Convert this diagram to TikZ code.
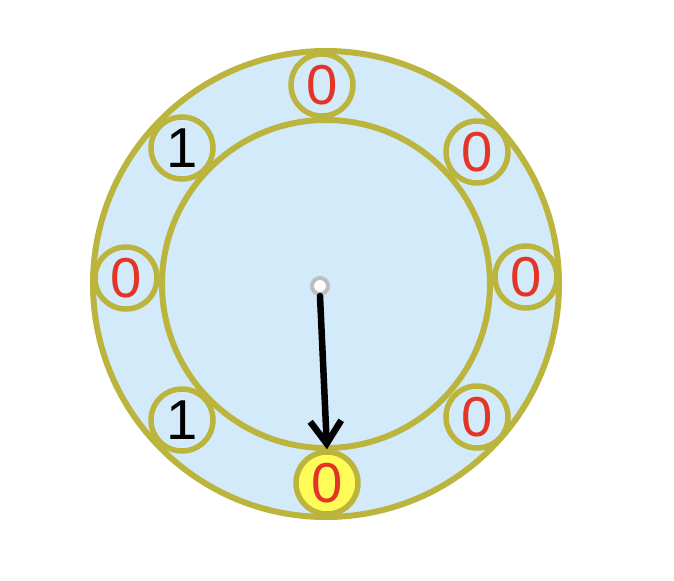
\documentclass[tikz,border=0pt]{standalone}
\usepackage{fontspec}
\setmainfont{Liberation Sans}
\usetikzlibrary{arrows.meta}
\definecolor{ringblue}{RGB}{211,234,251}
\definecolor{olive}{RGB}{187,181,62}
\definecolor{bitred}{RGB}{228,52,38}
\definecolor{headyellow}{RGB}{255,252,88}
\definecolor{pivotgrey}{RGB}{190,190,190}
\begin{document}
\begin{tikzpicture}[
  ring/.style={draw=olive, line width=0.12cm, fill=ringblue},
  bit/.style={circle, draw=olive, line width=0.11cm, fill=ringblue, minimum size=1.24cm,
              inner sep=0pt, font=\fontsize{32}{35}\selectfont},
  zero/.style={bit, text=bitred},
  one/.style={bit, text=black},
  pointer/.style={-{Straight Barb[length=0.45cm, width=0.62cm]}, line width=0.13cm, line cap=round},
]
  \useasboundingbox (-6.52,-5.92) rectangle (6.96,5.68);
  \draw[ring] (0,0) circle (4.66);
  \draw[ring] (0,0) circle (3.28);

  \node[zero] (top) at (-0.08,3.98) {0};
  \node[zero] (topright) at (3.02,2.64) {0};
  \node[zero] (right) at (4.0,0.14) {0};
  \node[zero] (botright) at (3.02,-2.66) {0};
  \node[zero, fill=headyellow] (bot) at (0.02,-3.98) {0};
  \node[one] (botleft) at (-2.88,-2.72) {1};
  \node[zero] (left) at (-4.0,0.12) {0};
  \node[one] (topleft) at (-2.88,2.72) {1};

  \node[circle, draw=pivotgrey, fill=white, line width=0.08cm, minimum size=0.32cm,
        inner sep=0pt] (pivot) at (-0.12,-0.04) {};
  \draw[pointer] (pivot.south) -- (bot.north);
\end{tikzpicture}
\end{document}
